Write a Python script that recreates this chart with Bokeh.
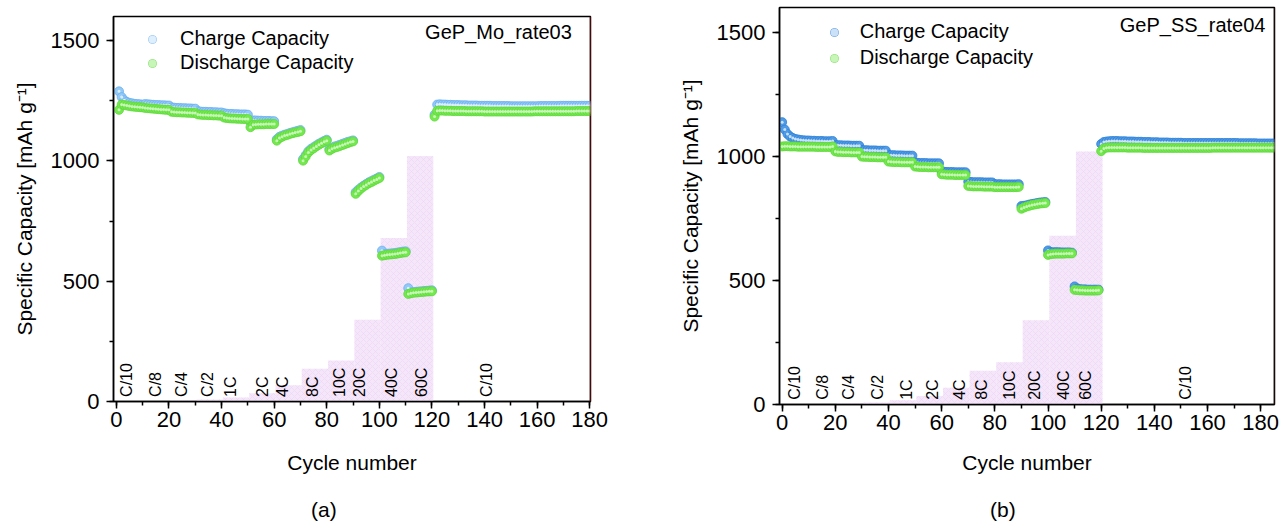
from bokeh.plotting import figure
from bokeh.models import (ColumnDataSource, Range1d, Legend, LegendItem, Label,
                          Span, SingleIntervalTicker, Div)
from bokeh.layouts import row, column
from bokeh.embed import file_html
from bokeh.resources import INLINE
from bokeh.core.properties import value

FONT = "Liberation Sans"

# ---------------- data ----------------
rate_labels = ["C/10", "C/8", "C/4", "C/2", "1C", "2C", "4C", "8C", "10C", "20C", "40C", "60C", "C/10"]
rate_current = [1.7, 2.1, 4.25, 8.5, 17, 34, 68, 136, 170, 340, 680, 1020, 1.7]
seg_start = [0.5, 10.5, 20.5, 30.5, 40.5, 50.5, 60.5, 70.5, 80.5, 90.5, 100.5, 110.5, 120.5]
seg_end_a = [10.5, 20.5, 30.5, 40.5, 50.5, 60.5, 70.5, 80.5, 90.5, 100.5, 110.5, 120.5, 180.3]
seg_end_b = [10.5, 20.5, 30.5, 40.5, 50.5, 60.5, 70.5, 80.5, 90.5, 100.5, 110.5, 120.5, 185.2]
label_x_a = [4, 14.8, 24.7, 34.7, 43.3, 55.7, 63.3, 74.7, 84.8, 92.4, 104.7, 116, 140.8]
label_x_b = [4.5, 15, 25, 36, 46.7, 56.4, 66.6, 75, 85.6, 95, 105.7, 114, 151.7]

cycles_a = list(range(1, 181))
cycles_b = list(range(0, 186))

charge_a = [
    1289, 1265, 1252, 1245, 1241, 1239, 1237, 1236, 1235, 1234,
    1236, 1235, 1234, 1233, 1232, 1232, 1231, 1231, 1230, 1230,
    1222, 1221, 1220, 1220, 1219, 1219, 1218, 1218, 1217, 1217,
    1206, 1205, 1204, 1204, 1203, 1203, 1202, 1202, 1201, 1201,
    1198, 1196, 1195, 1195, 1194, 1194, 1193, 1193, 1193, 1192,
    1160, 1168, 1168, 1167, 1167, 1166, 1166, 1166, 1165, 1165,
    1090, 1100, 1105, 1109, 1112, 1116, 1119, 1122, 1125, 1128,
    1008, 1024, 1040, 1050, 1057, 1064, 1071, 1077, 1083, 1088,
    1050, 1055, 1060, 1063, 1067, 1071, 1075, 1079, 1082, 1085,
    870, 880, 889, 897, 904, 911, 916, 922, 927, 933,
    627, 612, 614, 615, 616, 617, 619, 621, 623, 624,
    471, 453, 455, 456, 457, 458, 459, 460, 461, 462,
    1192, 1234, 1235, 1234, 1234, 1233, 1233, 1232, 1232, 1232,
    1231, 1231, 1231, 1230, 1230, 1230, 1230, 1229, 1229, 1229,
    1229, 1229, 1228, 1228, 1228, 1228, 1228, 1228, 1228, 1227,
    1227, 1227, 1227, 1227, 1227, 1227, 1227, 1227, 1227, 1227,
    1228, 1228, 1228, 1228, 1228, 1228, 1228, 1228, 1229, 1229,
    1229, 1229, 1229, 1229, 1229, 1229, 1229, 1229, 1229, 1229,
]
discharge_a = [
    1212, 1234, 1232, 1230, 1228, 1226, 1225, 1224, 1223, 1222,
    1220, 1219, 1218, 1217, 1216, 1215, 1214, 1213, 1212, 1212,
    1204, 1203, 1202, 1202, 1201, 1201, 1200, 1200, 1199, 1199,
    1193, 1192, 1191, 1191, 1190, 1190, 1189, 1189, 1188, 1188,
    1180, 1178, 1177, 1176, 1176, 1175, 1175, 1174, 1174, 1174,
    1140, 1150, 1151, 1152, 1152, 1152, 1153, 1153, 1153, 1153,
    1084, 1095, 1100, 1105, 1108, 1112, 1115, 1118, 1120, 1123,
    1001, 1018, 1035, 1045, 1052, 1060, 1067, 1073, 1079, 1084,
    1043, 1050, 1055, 1058, 1062, 1066, 1070, 1074, 1078, 1081,
    863, 875, 885, 893, 900, 907, 912, 918, 923, 929,
    606, 608, 610, 611, 612, 613, 615, 617, 619, 620,
    447, 450, 452, 453, 454, 455, 456, 457, 458, 458,
    1184, 1208, 1209, 1209, 1208, 1208, 1208, 1207, 1207, 1207,
    1207, 1207, 1206, 1206, 1206, 1206, 1206, 1206, 1206, 1205,
    1205, 1205, 1205, 1205, 1205, 1205, 1205, 1205, 1205, 1205,
    1205, 1205, 1205, 1205, 1205, 1205, 1205, 1205, 1206, 1206,
    1206, 1206, 1206, 1206, 1206, 1206, 1206, 1206, 1206, 1206,
    1206, 1206, 1206, 1206, 1207, 1207, 1207, 1207, 1207, 1207,
]
charge_b = [
    1138, 1108, 1090, 1080, 1074, 1070, 1068, 1066, 1065, 1064,
    1064, 1063, 1063, 1062, 1062, 1062, 1061, 1061, 1061, 1062,
    1046, 1045, 1045, 1044, 1044, 1044, 1043, 1043, 1043, 1043,
    1026, 1025, 1025, 1024, 1024, 1024, 1023, 1023, 1023, 1023,
    1006, 1005, 1005, 1004, 1004, 1004, 1003, 1003, 1003, 1003,
    975, 974, 973, 973, 973, 972, 972, 972, 972, 972,
    940, 938, 937, 937, 937, 936, 936, 936, 936, 936,
    898, 897, 896, 896, 896, 896, 895, 895, 895, 895,
    888, 888, 888, 887, 887, 887, 887, 887, 887, 888,
    800, 801, 803, 806, 808, 810, 812, 814, 815, 816,
    621, 614, 614, 614, 614, 613, 613, 613, 613, 612,
    476, 467, 465, 464, 464, 463, 463, 463, 463, 463,
    1050, 1058, 1060, 1061, 1062, 1062, 1062, 1061, 1061, 1061,
    1060, 1060, 1060, 1059, 1059, 1059, 1058, 1058, 1058, 1057,
    1057, 1057, 1056, 1056, 1056, 1056, 1055, 1055, 1055, 1055,
    1055, 1054, 1054, 1054, 1054, 1054, 1054, 1054, 1054, 1054,
    1054, 1054, 1054, 1054, 1054, 1054, 1054, 1054, 1054, 1054,
    1054, 1054, 1053, 1053, 1053, 1053, 1053, 1053, 1053, 1052,
    1052, 1052, 1052, 1052, 1052, 1052,
]
discharge_b = [
    1040, 1041, 1041, 1040, 1040, 1040, 1039, 1039, 1039, 1039,
    1039, 1039, 1039, 1038, 1038, 1038, 1038, 1038, 1038, 1040,
    1020, 1018, 1018, 1017, 1017, 1017, 1016, 1016, 1016, 1016,
    999, 998, 998, 997, 997, 997, 996, 996, 996, 996,
    979, 978, 977, 977, 977, 976, 976, 976, 976, 976,
    959, 958, 957, 957, 957, 956, 956, 956, 956, 956,
    928, 927, 926, 926, 926, 925, 925, 925, 925, 925,
    881, 880, 879, 879, 879, 879, 878, 878, 878, 878,
    876, 876, 876, 876, 876, 876, 876, 876, 876, 877,
    789, 794, 798, 801, 804, 806, 808, 810, 811, 812,
    603, 606, 607, 608, 608, 608, 608, 609, 609, 609,
    462, 461, 460, 460, 459, 459, 459, 459, 459, 460,
    1021, 1032, 1035, 1036, 1036, 1036, 1036, 1036, 1036, 1036,
    1035, 1035, 1035, 1035, 1035, 1035, 1034, 1034, 1034, 1034,
    1034, 1034, 1034, 1034, 1034, 1034, 1034, 1034, 1034, 1034,
    1034, 1034, 1034, 1034, 1034, 1034, 1034, 1034, 1034, 1034,
    1034, 1034, 1035, 1035, 1035, 1035, 1035, 1035, 1035, 1035,
    1035, 1035, 1035, 1035, 1035, 1035, 1035, 1035, 1035, 1035,
    1035, 1035, 1035, 1035, 1035, 1035,
]

GREEN = "#74e94e"
GREEN_EDGE = "#5fd83c"


def make_panel(cfg):
    p = figure(frame_width=cfg["fw"], frame_height=cfg["fh"],
               x_range=Range1d(cfg["x0"], cfg["x1"]), y_range=Range1d(0, 1600),
               output_backend="svg", toolbar_location=None,
               min_border_left=cfg["bl"], min_border_right=cfg["br"],
               min_border_top=cfg["bt"], min_border_bottom=cfg["bb"])
    p.title.visible = False
    p.xgrid.visible = False
    p.ygrid.visible = False
    p.outline_line_color = "black"
    p.outline_line_width = 1.5
    p.background_fill_color = "white"
    p.border_fill_color = "white"

    # rate bars (current)
    bars = ColumnDataSource(dict(left=seg_start, right=cfg["seg_end"], top=rate_current,
                                 bottom=[0] * len(rate_current)))
    p.quad(left="left", right="right", top="top", bottom="bottom", source=bars,
           fill_color="#f4e3f9", fill_alpha=0.9, line_color=None,
           hatch_pattern="diagonal_cross", hatch_color="#ead2f2", hatch_scale=6, hatch_alpha=0.5)

    # rate labels
    lbl = ColumnDataSource(dict(x=cfg["label_x"], y=[19] * len(rate_labels), text=rate_labels))
    p.text(x="x", y="y", text="text", source=lbl, angle=1.5708, text_align="left",
           text_baseline="middle", text_font=value(FONT), text_font_size="16px",
           text_color="black")

    src_c = ColumnDataSource(dict(x=cfg["cycles"], y=cfg["charge"]))
    src_d = ColumnDataSource(dict(x=cfg["cycles"], y=cfg["discharge"]))
    rc = p.scatter("x", "y", source=src_c, size=9, marker="circle",
                   fill_color=cfg["blue"], line_color=cfg["blue_edge"], line_width=0.8)
    rch = p.scatter("x", "y", source=src_c, size=3, marker="circle",
                    fill_color="white", fill_alpha=0.7, line_color=None)
    rd = p.scatter("x", "y", source=src_d, size=9, marker="circle",
                   fill_color=GREEN, line_color=GREEN_EDGE, line_width=0.8)
    rdh = p.scatter("x", "y", source=src_d, size=3, marker="circle",
                    fill_color="white", fill_alpha=0.6, line_color=None)

    legend = Legend(items=[LegendItem(label="Charge Capacity", renderers=[rc, rch]),
                           LegendItem(label="Discharge Capacity", renderers=[rd, rdh])],
                    location=cfg["legend_loc"], border_line_color=None,
                    background_fill_alpha=0, label_text_font=FONT,
                    label_text_font_size="20px", label_text_color="black",
                    glyph_width=20, glyph_height=20,
                    label_height=20, label_standoff=cfg["standoff"], padding=0, margin=0,
                    spacing=cfg["spacing"])
    p.add_layout(legend)

    p.add_layout(Label(x=cfg["tag_x"], y=cfg["tag_y"], text=cfg["tag"], text_font=FONT,
                       text_font_size="20px", text_baseline="middle", text_color="black"))

    if cfg.get("edge_color"):
        p.add_layout(Span(location=cfg["x1"], dimension="height",
                          line_color=cfg["edge_color"], line_width=1.5))

    p.xaxis.ticker = SingleIntervalTicker(interval=20, num_minor_ticks=2)
    p.yaxis.ticker = SingleIntervalTicker(interval=500, num_minor_ticks=2)
    for ax in (p.xaxis, p.yaxis):
        ax.axis_line_width = 1.5
        ax.axis_line_color = "black"
        ax.major_tick_in = 0
        ax.major_tick_out = 7
        ax.minor_tick_in = 0
        ax.minor_tick_out = 4
        ax.major_tick_line_width = 1.5
        ax.minor_tick_line_width = 1.5
        ax.major_tick_line_color = "black"
        ax.minor_tick_line_color = "black"
        ax.major_label_text_font = FONT
        ax.major_label_text_font_size = "22px"
        ax.major_label_text_color = "black"
        ax.axis_label_text_font = FONT
        ax.axis_label_text_font_size = "21px"
        ax.axis_label_text_font_style = "normal"
        ax.axis_label_text_color = "black"
    p.xaxis.axis_label = "Cycle number"
    p.yaxis.axis_label = "Specific Capacity [mAh g\u207b\u00b9]"
    p.xaxis.major_label_standoff = 3
    p.xaxis.axis_label_standoff = cfg["xl_standoff"]
    p.yaxis.major_label_standoff = 7
    p.yaxis.axis_label_standoff = 12
    return p


def caption(text, width, left):
    html = ('<div style="position:relative; left:%dpx; top:12px; '
            "font-family:'Liberation Sans', Arial, sans-serif; font-size:21px; "
            'line-height:24px; color:black; white-space:nowrap;">%s</div>' % (left, text))
    return Div(text=html, width=width, height=45, margin=0)


pa = make_panel(dict(fw=477, fh=385, x0=-1.1, x1=180.3, bl=113, br=70, bt=16, bb=85,
                     seg_end=seg_end_a, label_x=label_x_a, cycles=cycles_a,
                     charge=charge_a, discharge=discharge_a,
                     blue="#92c9f7", blue_edge="#6aaff0",
                     legend_loc=(29, 327), standoff=18, spacing=1,
                     tag="GeP_Mo_rate03", tag_x=117.4, tag_y=1537,
                     edge_color="#8b1010", xl_standoff=21))
pb = make_panel(dict(fw=495, fh=397, x0=-1.0, x1=185.2, bl=119, br=8, bt=7, bb=82,
                     seg_end=seg_end_b, label_x=label_x_b, cycles=cycles_b,
                     charge=charge_b, discharge=discharge_b,
                     blue="#4f9be6", blue_edge="#2f80d8",
                     legend_loc=(44.7, 335), standoff=16, spacing=3,
                     tag="GeP_SS_rate04", tag_x=127, tag_y=1528,
                     edge_color="#2a1010", xl_standoff=18))

layout = row(column(pa, caption("(a)", 660, 311)), column(pb, caption("(b)", 623, 330)))
open("out.html", "w").write(file_html(layout, INLINE))
